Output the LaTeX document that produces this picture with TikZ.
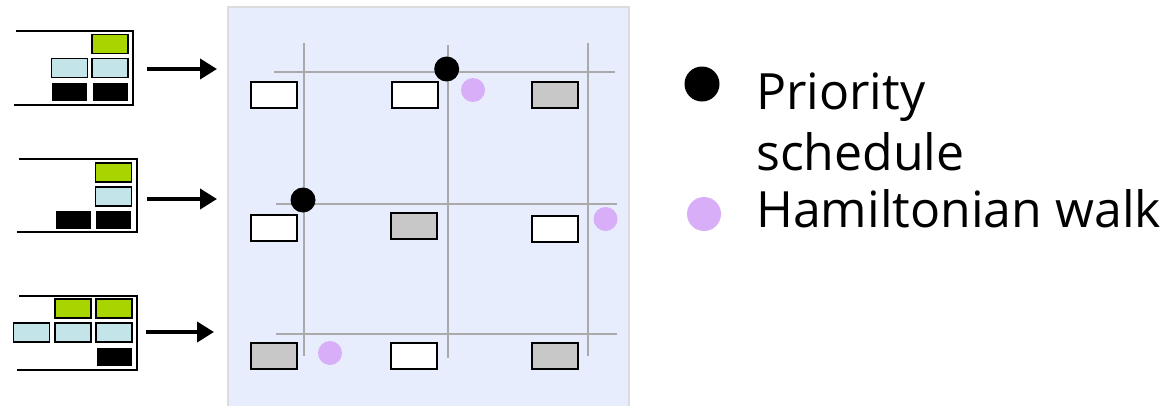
\documentclass[tikz,border=0pt]{standalone}
\usepackage{fontspec}
\setmainfont{Open Sans}
\usetikzlibrary{arrows.meta}
\definecolor{panelbg}{HTML}{E8EDFD}
\definecolor{panelbd}{HTML}{DCDCDC}
\definecolor{gridc}{HTML}{AAAAAA}
\definecolor{lgreen}{HTML}{A8D400}
\definecolor{lblue}{HTML}{C3E4E8}
\definecolor{gbox}{HTML}{C8C8C8}
\definecolor{lilac}{HTML}{D8AEF8}
\tikzset{
  panel/.style={fill=panelbg, draw=panelbd, line width=1.5pt},
  gridline/.style={draw=gridc, line width=2pt},
  cell/.style={draw=black, line width=2pt, rectangle, inner sep=0pt, outer sep=0pt, minimum width=46pt, minimum height=26pt},
  sbox/.style={draw=black, line width=1.6pt, rectangle, inner sep=0pt, outer sep=0pt, minimum width=36pt, minimum height=19pt},
  frame/.style={draw=black, line width=2pt},
  bigarrow/.style={draw=black, line width=4pt, -{Triangle[length=17pt,width=20pt]}},
  pdot/.style={circle, fill=black, inner sep=0pt, minimum size=25pt},
  hdot/.style={circle, fill=lilac, inner sep=0pt, minimum size=24pt},
  legtext/.style={anchor=base west, inner sep=0pt, font=\fontsize{50}{60}\selectfont}
}
\begin{document}
\begin{tikzpicture}[x=1pt,y=-1pt]
\useasboundingbox (0,0) rectangle (1168,405);
\fill[white] (0,0) rectangle (1168,405);
% panel
\draw[panel] (228,7) rectangle (629,407);
% grid lines
\coordinate (v1t) at (304,43); \coordinate (v1b) at (304,356);
\coordinate (v2t) at (447.5,45); \coordinate (v2b) at (447.5,358);
\coordinate (v3t) at (588,43); \coordinate (v3b) at (588,356);
\coordinate (h1l) at (274,72); \coordinate (h1r) at (615,72);
\coordinate (h2l) at (276,204); \coordinate (h2r) at (617,204);
\coordinate (h3l) at (276,334); \coordinate (h3r) at (617,334);
\draw[gridline] (v1t) -- (v1b);
\draw[gridline] (v2t) -- (v2b);
\draw[gridline] (v3t) -- (v3b);
\draw[gridline] (h1l) -- (h1r);
\draw[gridline] (h2l) -- (h2r);
\draw[gridline] (h3l) -- (h3r);
% cells
\node[cell, fill=white] (c11) at (273.5,95) {};
\node[cell, fill=white] (c12) at (415,95) {};
\node[cell, fill=gbox]  (c13) at (555,95) {};
\node[cell, fill=white] (c21) at (273.5,228) {};
\node[cell, fill=gbox]  (c22) at (413.5,226) {};
\node[cell, fill=white] (c23) at (555,228.5) {};
\node[cell, fill=gbox]  (c31) at (273.5,356) {};
\node[cell, fill=white] (c32) at (413.5,356) {};
\node[cell, fill=gbox]  (c33) at (555,356) {};
% dots
\node[pdot] (p1) at (446.7,69) {};
\node[pdot] (p2) at (303,200) {};
\node[hdot] (h1) at (473,90) {};
\node[hdot] (h2) at (605.5,219) {};
\node[hdot] (h3) at (330,353) {};
% stack 1
\draw[frame] (16,31) -- (133,31) -- (133,105) -- (14,105);
\node[sbox, fill=lgreen] (s1a) at (110,44) {};
\node[sbox, fill=lblue] (s1b) at (69.5,68) {};
\node[sbox, fill=lblue] (s1c) at (110,68) {};
\node[sbox, fill=black, draw=white, line width=1pt] (s1d) at (69.5,92) {};
\node[sbox, fill=black, draw=white, line width=1pt] (s1e) at (110,92) {};
% stack 2
\draw[frame] (19,159) -- (137,159) -- (137,232) -- (17,232);
\node[sbox, fill=lgreen] (s2a) at (113.5,172.5) {};
\node[sbox, fill=lblue] (s2b) at (113.5,196.5) {};
\node[sbox, fill=black, draw=white, line width=1pt] (s2c) at (73,220) {};
\node[sbox, fill=black, draw=white, line width=1pt] (s2d) at (113.5,220) {};
% stack 3
\draw[frame] (19,296) -- (137,296) -- (137,370) -- (17,370);
\node[sbox, fill=lgreen] (s3a) at (73,308.5) {};
\node[sbox, fill=lgreen] (s3b) at (114,308.5) {};
\node[sbox, fill=lblue] (s3c) at (31.5,332.5) {};
\node[sbox, fill=lblue] (s3d) at (73,332.5) {};
\node[sbox, fill=lblue] (s3e) at (114,332.5) {};
\node[sbox, fill=black, draw=white, line width=1pt] (s3f) at (114,356.5) {};
% arrows
\coordinate (a1s) at (147,69);  \coordinate (a1e) at (217,69);
\coordinate (a2s) at (147,199); \coordinate (a2e) at (217,199);
\coordinate (a3s) at (146,332); \coordinate (a3e) at (214,332);
\draw[bigarrow] (a1s) -- (a1e);
\draw[bigarrow] (a2s) -- (a2e);
\draw[bigarrow] (a3s) -- (a3e);
% legend
\node[circle, fill=black, inner sep=0pt, minimum size=35pt] (lp) at (702,84) {};
\node[circle, fill=lilac, inner sep=0pt, minimum size=34pt] (lh) at (704,214) {};
\node[legtext] (t1) at (756,109) {Priority};
\node[legtext] (t2) at (756,170) {schedule};
\node[legtext] (t3) at (756,227) {Hamiltonian walk};
\end{tikzpicture}
\end{document}
